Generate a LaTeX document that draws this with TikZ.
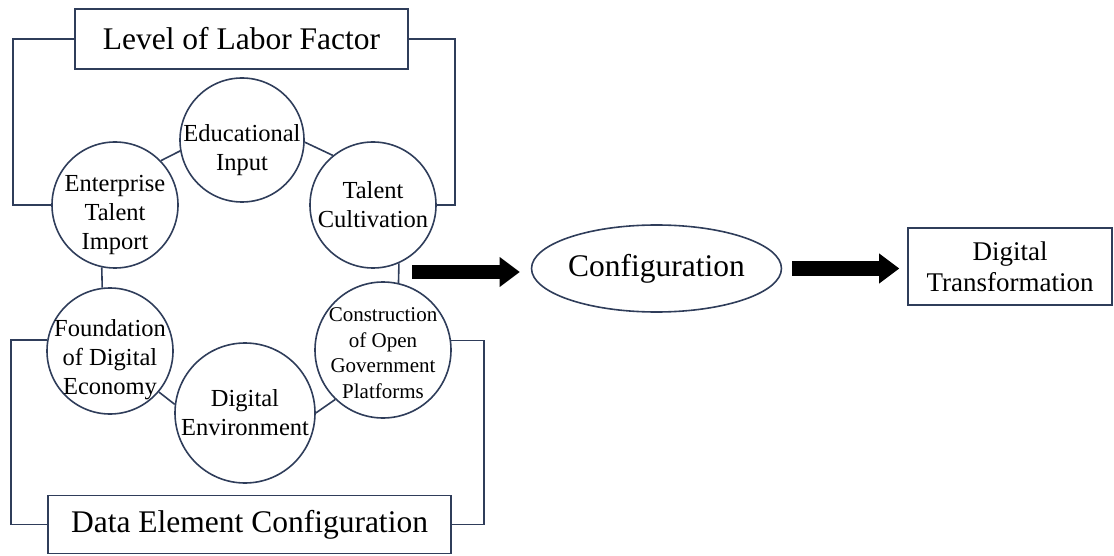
\documentclass[tikz,border=0pt]{standalone}
\usepackage{fontspec}
\setmainfont{Liberation Serif}
\usetikzlibrary{arrows.meta,shapes.geometric}
\definecolor{navy}{HTML}{2F3D5A}

\begin{document}
\begin{tikzpicture}[x=1pt, y=-1pt, line width=1.6pt,
    box/.style={shape=rectangle, draw=navy, inner sep=0pt},
    ring/.style={shape=circle, draw=navy, inner sep=0pt},
    ringtext/.style={align=center, inner sep=0pt, font=\fontsize{24.5}{29}\selectfont},
    link/.style={draw=navy},
    bigarrow/.style={line width=14pt, -{Triangle[length=20pt, width=30pt, line width=0pt]}}]
    \useasboundingbox (0, 0) rectangle (1114, 556);

    \node[box, minimum width=333pt, minimum height=60pt, font=\fontsize{31.5}{36}\selectfont] (labor) at (241.5, 39) {Level of Labor Factor};
    \node[box, minimum width=403pt, minimum height=58pt, font=\fontsize{31.5}{36}\selectfont] (data) at (249.5, 524.5) {Data Element Configuration};

    \node[ring, minimum size=124pt, label={[ringtext, yshift=-10pt]center:Educational\\Input}] (edu) at (242, 140) {};
    \node[ring, minimum size=126pt, label={[ringtext, yshift=-10pt]center:Enterprise\\Talent\\Import}] (ent) at (115, 205) {};
    \node[ring, minimum size=126pt, label={[ringtext]center:Talent\\Cultivation}] (tal) at (373, 205) {};
    \node[ring, minimum size=126pt, label={[ringtext, yshift=-9pt]center:Foundation\\of Digital\\Economy}] (fou) at (110, 351) {};
    \node[ring, minimum size=140pt, label={[ringtext]center:Digital\\Environment}] (env) at (245, 413) {};
    \node[ring, minimum size=136pt, label={[ringtext, yshift=-3pt, font=\fontsize{21}{25.5}\selectfont]center:Construction\\of Open\\Government\\Platforms}] (con) at (383, 350) {};

    \node[shape=ellipse, draw=navy, minimum width=207pt, minimum height=87pt, inner sep=0pt, font=\fontsize{31.5}{36}\selectfont] (config) at (656.5, 268.5) {Configuration};
    \node[box, minimum width=204pt, minimum height=77pt, align=center, font=\fontsize{27}{31}\selectfont] (dt) at (1010, 266.5) {Digital\\Transformation};

    \draw[link] (ent.44) -- (edu.190);
    \draw[link] (edu.-2) -- (tal.129);
    \draw[link] (ent.258) -- (fou.97);
    \draw[link] (tal.-66) -- (con.77);
    \draw[link] (fou.-40) -- (env.173);
    \draw[link] (env.0) -- (con.226);

    \draw[link] (labor.west) -| ([xshift=-38pt]ent.west) -- (ent.west);
    \draw[link] (labor.east) -| ([xshift=18pt]tal.east) -- (tal.east);
    \draw[link] (fou.170) -| ([xshift=-36pt]data.west) -- (data.west);
    \draw[link] (con.8) -| ([xshift=32pt]data.east) -- (data.east);

    \coordinate (ringout) at (412, 272);
    \draw[bigarrow, shorten >=11pt] (ringout) -- (ringout -| config.west);
    \draw[bigarrow, shorten <=10pt, shorten >=8pt] (config.east) -- (config.east -| dt.west);
\end{tikzpicture}
\end{document}
